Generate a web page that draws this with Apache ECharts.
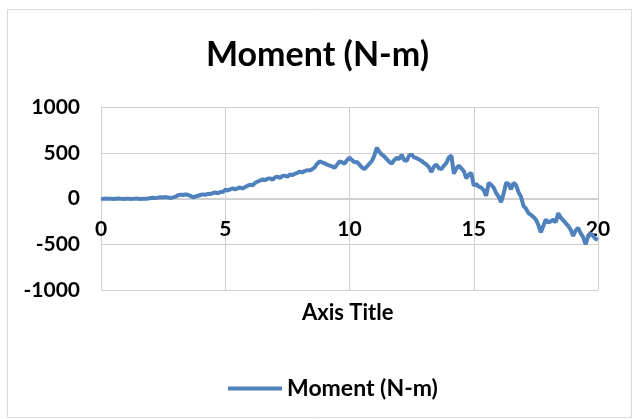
<!DOCTYPE html>
<html>
<head>
<meta charset="utf-8">
<script src="https://cdn.jsdelivr.net/npm/echarts@6/dist/echarts.min.js"></script>
<style>html,body{margin:0;padding:0;background:#fff}#c{width:635px;height:419px}</style>
</head>
<body>
<div id="c"></div>
<script>
var titleText = 'Moment (N-m)';
var seriesName = 'Moment (N-m)';
var xAxisTitle = 'Axis Title';
var xStep = 0.1;
var moment = [
  -5, -3, 0, -4, -2, -6, -3, -1, -4, -5, -3, -2, -6, -4, -1, -3, -5, -2, -4, 0,
  5, 8, 4, 10, 14, 12, 16, 10, 6, 12,
  20, 35, 42, 38, 44, 40, 30, 12, 22, 30,
  38, 45, 40, 52, 48, 60, 65, 58, 70, 72,
  95, 88, 100, 110, 98, 112, 120, 108, 125, 140,
  150, 145, 170, 185, 195, 210, 200, 215, 220, 205,
  230, 240, 225, 245, 250, 238, 262, 255, 270, 280,
  295, 285, 300, 310, 305, 320, 340, 380, 405, 395,
  385, 370, 360, 350, 335, 370, 405, 395, 380, 420,
  445, 420, 395, 400, 370, 340, 320, 350, 380, 410,
  470, 555, 510, 480, 460, 430, 400, 380, 420, 445,
  430, 480, 420, 410, 470, 480, 450, 440, 425, 410,
  390, 370, 340, 290, 350, 370, 330, 320, 360, 390,
  450, 470, 270, 330, 360, 330, 300, 220, 260, 280,
  140, 160, 130, 120, 90, 30, 170, 150, 120, 60,
  20, -40, 50, 170, 160, 100, 170, 150, 70, 20,
  -80, -110, -160, -180, -200, -230, -290, -370, -300, -230,
  -260, -250, -230, -260, -160, -210, -240, -270, -300, -340,
  -410, -350, -320, -380, -420, -500, -420, -380, -410, -440,
  -450
];
var data = moment.map(function (v, i) { return [+(i * xStep).toFixed(2), v]; });

var chart = echarts.init(document.getElementById('c'));
var F = 'Lato';
var gridColor = '#d0d0d0';
chart.setOption({
  animation: false,
  backgroundColor: '#fff',
  graphic: [{
    type: 'rect', left: 5, top: 7, shape: { width: 624, height: 408 },
    style: { fill: 'none', stroke: '#d9d9d9', lineWidth: 1 }
  }, {
    type: 'text', left: 302, top: 302, z: 10,
    style: { text: xAxisTitle, fontFamily: F, fontWeight: 'bold', fontSize: 22, fill: '#000' }
  }],
  title: {
    text: titleText, left: 'center', top: 33,
    textStyle: { fontFamily: F, fontWeight: 'bold', fontSize: 34, color: '#000' }
  },
  legend: {
    top: 372, left: 223, itemWidth: 54, itemHeight: 4, itemGap: 6,
    icon: 'rect',
    textStyle: { fontFamily: F, fontWeight: 'bold', fontSize: 23, color: '#000' },
    data: [{ name: seriesName }]
  },
  grid: { left: 101, right: 37, top: 107, bottom: 129 },
  xAxis: {
    type: 'value', min: 0, max: 20, interval: 5,
    offset: -91,
    axisLine: { onZero: false, lineStyle: { color: gridColor, width: 1 } },
    axisTick: { show: false },
    axisLabel: { fontFamily: F, fontWeight: 'bold', color: '#000', fontSize: 21, margin: 20 },
    splitLine: { show: true, lineStyle: { color: gridColor, width: 1 } }
  },
  yAxis: {
    type: 'value', min: -1000, max: 1000, interval: 500,
    axisLine: { show: true, lineStyle: { color: gridColor } },
    axisTick: { show: false },
    axisLabel: { fontFamily: F, fontWeight: 'bold', color: '#000', fontSize: 21, margin: 21,
      formatter: function (v) { return String(v); } },
    splitLine: { show: true, lineStyle: { color: gridColor, width: 1 } }
  },
  series: [{
    name: seriesName, type: 'line', data: data, showSymbol: false,
    lineStyle: { color: '#4f81bd', width: 4 }, itemStyle: { color: '#4f81bd' }
  }]
});
</script>
</body>
</html>
